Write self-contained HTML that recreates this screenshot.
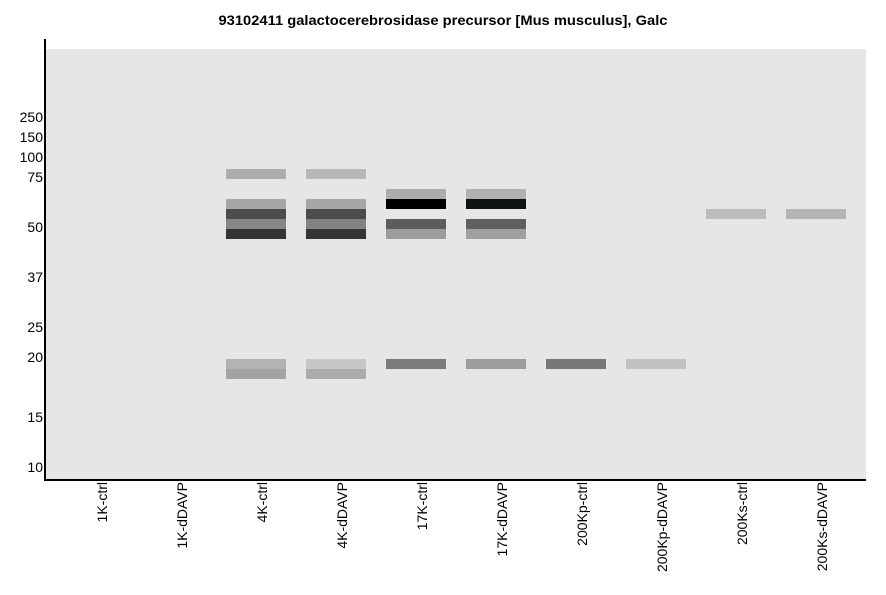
<!DOCTYPE html>
<html><head><meta charset="utf-8"><style>
html,body{margin:0;padding:0;background:#fff;}
svg{display:block;}
text{font-family:"Liberation Sans",Arial,sans-serif;}
</style></head><body>
<svg width="886" height="595" viewBox="0 0 886 595" xmlns="http://www.w3.org/2000/svg">
<rect x="0" y="0" width="886" height="595" fill="#fff"/>
<text x="443" y="25" text-anchor="middle" font-size="14" font-weight="bold" fill="#000" textLength="449" lengthAdjust="spacingAndGlyphs">93102411 galactocerebrosidase precursor [Mus musculus], Galc</text>
<rect x="46" y="49" width="820" height="430" fill="#e6e6e6"/>
<!-- 4K-ctrl -->
<rect x="226" y="169" width="60" height="10" fill="#adadad"/>
<rect x="226" y="199" width="60" height="10" fill="#a6a6a6"/>
<rect x="226" y="209" width="60" height="10" fill="#4c4c4c"/>
<rect x="226" y="219" width="60" height="10" fill="#868686"/>
<rect x="226" y="229" width="60" height="10" fill="#333333"/>
<rect x="226" y="359" width="60" height="10" fill="#b3b3b3"/>
<rect x="226" y="369" width="60" height="10" fill="#a3a3a3"/>
<!-- 4K-dDAVP -->
<rect x="306" y="169" width="60" height="10" fill="#b8b8b8"/>
<rect x="306" y="199" width="60" height="10" fill="#a7a7a7"/>
<rect x="306" y="209" width="60" height="10" fill="#4c4c4c"/>
<rect x="306" y="219" width="60" height="10" fill="#838383"/>
<rect x="306" y="229" width="60" height="10" fill="#343434"/>
<rect x="306" y="359" width="60" height="10" fill="#c6c6c6"/>
<rect x="306" y="369" width="60" height="10" fill="#ababab"/>
<!-- 17K-ctrl -->
<rect x="386" y="189" width="60" height="10" fill="#acacac"/>
<rect x="386" y="199" width="60" height="10" fill="#000000"/>
<rect x="386" y="219" width="60" height="10" fill="#5c5c5c"/>
<rect x="386" y="229" width="60" height="10" fill="#9c9c9c"/>
<rect x="386" y="359" width="60" height="10" fill="#7b7b7b"/>
<!-- 17K-dDAVP -->
<rect x="466" y="189" width="60" height="10" fill="#b0b0b0"/>
<rect x="466" y="199" width="60" height="10" fill="#111312"/>
<rect x="466" y="219" width="60" height="10" fill="#606060"/>
<rect x="466" y="229" width="60" height="10" fill="#a0a0a0"/>
<rect x="466" y="359" width="60" height="10" fill="#9e9e9e"/>
<!-- 200Kp -->
<rect x="546" y="359" width="60" height="10" fill="#787878"/>
<rect x="626" y="359" width="60" height="10" fill="#c1c2c1"/>
<!-- 200Ks -->
<rect x="706" y="209" width="60" height="10" fill="#bcbdbc"/>
<rect x="786" y="209" width="60" height="10" fill="#b5b5b5"/>
<!-- axes -->
<rect x="44" y="39" width="2" height="442" fill="#000"/>
<rect x="44" y="479" width="822" height="2" fill="#000"/>
<!-- y labels -->
<g font-size="14" fill="#000" text-anchor="end">
<text x="43" y="122">250</text>
<text x="43" y="142">150</text>
<text x="43" y="162">100</text>
<text x="43" y="182">75</text>
<text x="43" y="232">50</text>
<text x="43" y="282">37</text>
<text x="43" y="332">25</text>
<text x="43" y="362">20</text>
<text x="43" y="422">15</text>
<text x="43" y="472">10</text>
</g>
<!-- x labels -->
<g font-size="14" fill="#000" text-anchor="end">
<text transform="translate(107,482) rotate(-90)">1K-ctrl</text>
<text transform="translate(187,482) rotate(-90)">1K-dDAVP</text>
<text transform="translate(267,482) rotate(-90)">4K-ctrl</text>
<text transform="translate(347,482) rotate(-90)">4K-dDAVP</text>
<text transform="translate(427,482) rotate(-90)">17K-ctrl</text>
<text transform="translate(507,482) rotate(-90)">17K-dDAVP</text>
<text transform="translate(587,482) rotate(-90)">200Kp-ctrl</text>
<text transform="translate(667,482) rotate(-90)">200Kp-dDAVP</text>
<text transform="translate(747,482) rotate(-90)">200Ks-ctrl</text>
<text transform="translate(827,482) rotate(-90)">200Ks-dDAVP</text>
</g>
</svg>
</body></html>
